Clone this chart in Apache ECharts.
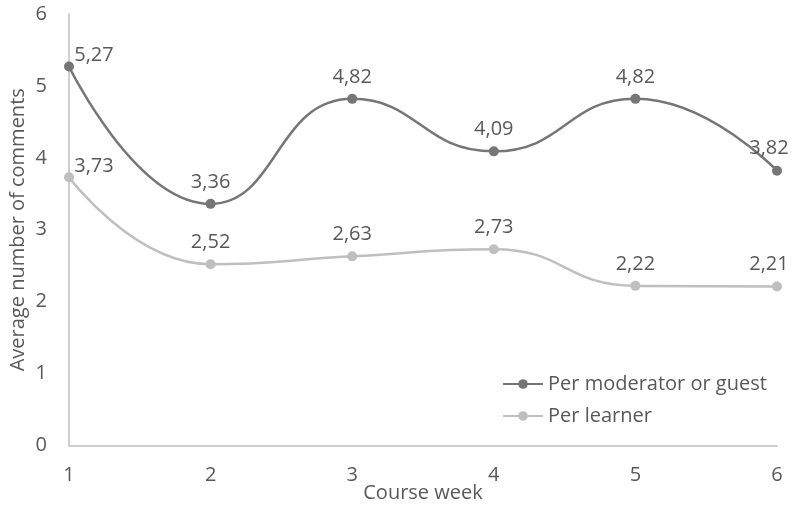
<!DOCTYPE html>
<html><head><meta charset="utf-8">
<script src="https://cdn.jsdelivr.net/npm/echarts@6/dist/echarts.min.js"></script>
<style>html,body{margin:0;padding:0;background:#fff}#c{width:791px;height:506px}</style>
</head><body><div id="c"></div>
<script>
const weeks = ['1','2','3','4','5','6'];
const moderator = [5.27, 3.36, 4.82, 4.09, 4.82, 3.82];
const learner = [3.73, 2.52, 2.63, 2.73, 2.22, 2.21];
const yTicks = [0,1,2,3,4,5,6];

const font = '"Open Sans", sans-serif';
const txt = '#595959';
const fmt = p => p.value.toFixed(2).replace('.', ',');
function withEdgeOffsets(arr){
  return arr.map((v,i)=> {
    if (i===0) return {value:v, label:{offset:[25,11]}};
    if (i===arr.length-1) return {value:v, label:{offset:[-8,0]}};
    return v;
  });
}
const chart = echarts.init(document.getElementById('c'));
chart.setOption({
  animation:false,
  grid:{left:69, right:14, top:14, bottom:60.5, containLabel:false, outerBoundsMode:'none'},
  legend:{
    orient:'vertical', left:497, top:369, itemGap:12, itemWidth:40, itemHeight:12,
    textStyle:{color:txt, fontFamily:font, fontSize:20},
    data:['Per moderator or guest','Per learner']
  },
  xAxis:{
    type:'category', data:weeks, boundaryGap:false,
    name:'Course week', nameLocation:'middle', nameGap:38, nameMoveOverlap:false,
    nameTextStyle:{color:txt, fontFamily:font, fontSize:20},
    axisLine:{lineStyle:{color:'#bfbfbf', width:1.5}},
    axisTick:{show:false},
    axisLabel:{color:txt, fontFamily:font, fontSize:20, margin:20},
    splitLine:{show:false}
  },
  yAxis:{
    type:'value', min:0, max:6, interval:1,
    name:'Average number of comments', nameLocation:'middle', nameGap:41, nameMoveOverlap:false,
    nameTextStyle:{color:txt, fontFamily:font, fontSize:20},
    axisLine:{show:true, lineStyle:{color:'#bfbfbf', width:1.5}},
    axisTick:{show:false},
    axisLabel:{color:txt, fontFamily:font, fontSize:20, margin:22,
      formatter: v => yTicks.includes(v) ? String(v) : ''},
    splitLine:{show:false}
  },
  series:[
    {name:'Per moderator or guest', type:'line', smooth:0.5, data:withEdgeOffsets(moderator),
     symbol:'circle', symbolSize:10, lineStyle:{color:'#767676', width:2.5},
     itemStyle:{color:'#767676'},
     label:{show:true, position:'top', distance:7, color:txt, fontFamily:font, fontSize:20, formatter:fmt}},
    {name:'Per learner', type:'line', smooth:0.5, data:withEdgeOffsets(learner),
     symbol:'circle', symbolSize:10, lineStyle:{color:'#bfbfbf', width:2.5},
     itemStyle:{color:'#bfbfbf'},
     label:{show:true, position:'top', distance:7, color:txt, fontFamily:font, fontSize:20, formatter:fmt}}
  ]
});
</script></body></html>
